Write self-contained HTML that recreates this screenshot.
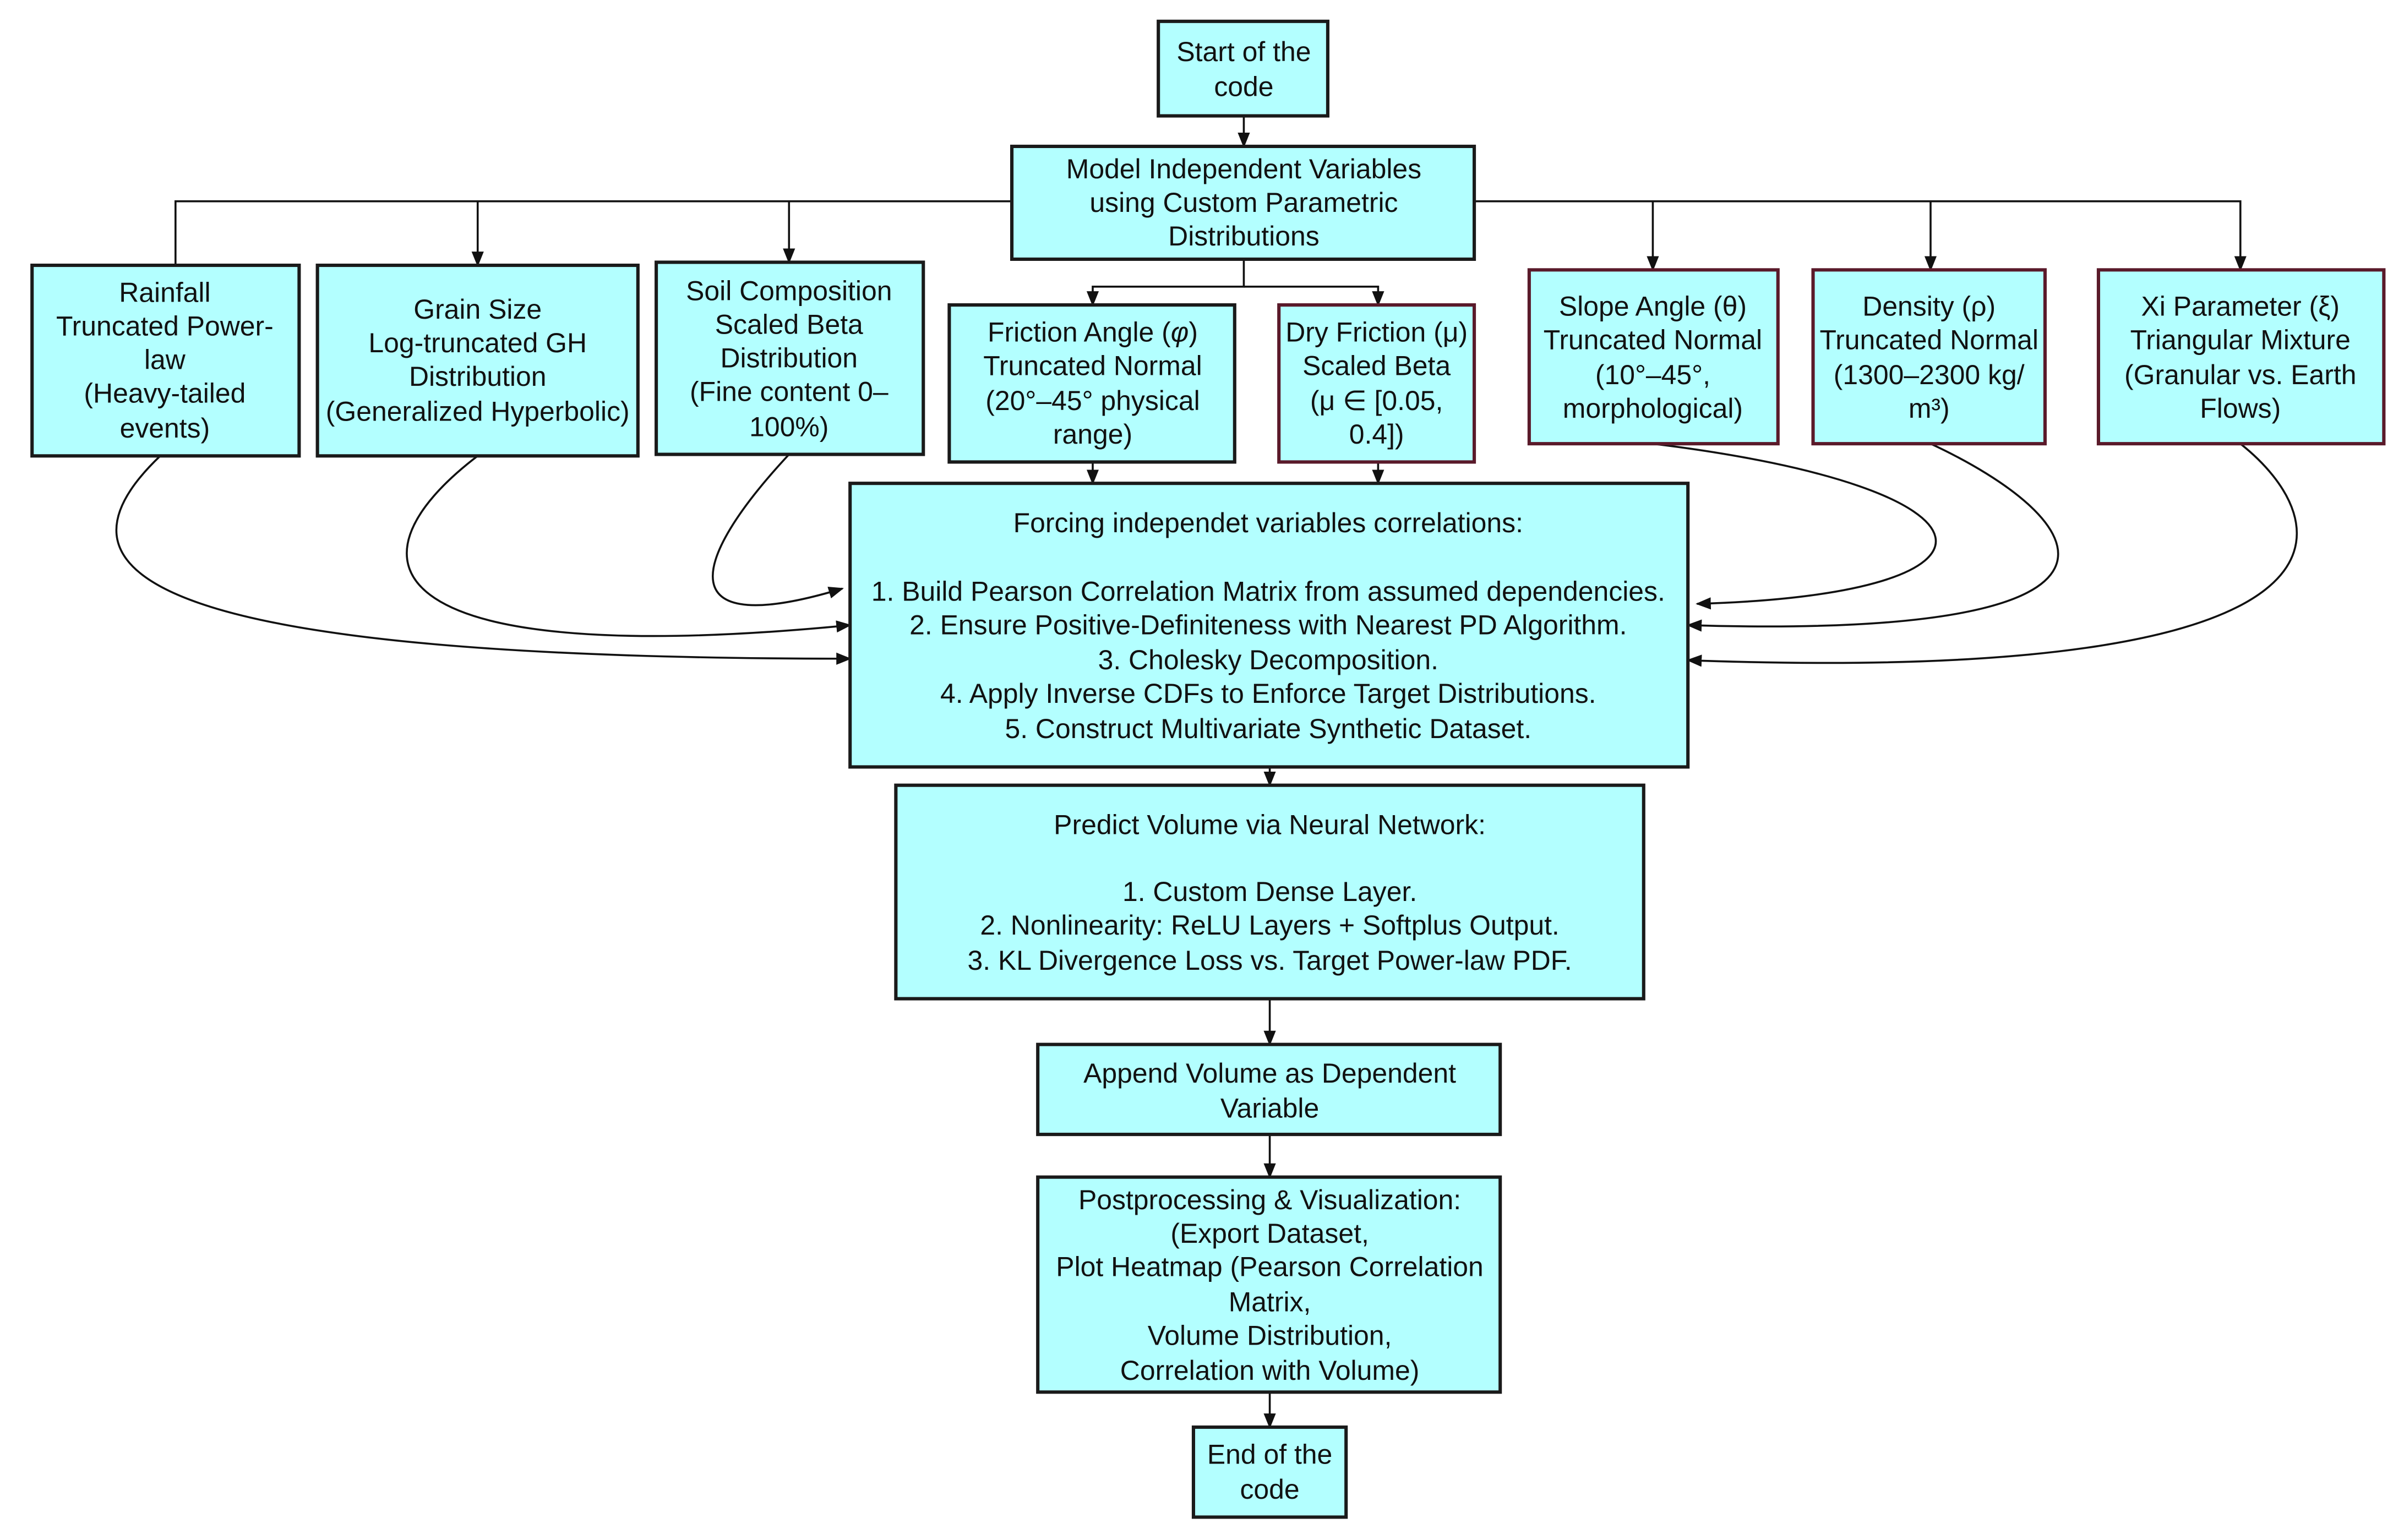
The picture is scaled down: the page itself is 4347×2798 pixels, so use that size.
<!DOCTYPE html>
<html><head><meta charset="utf-8"><style>
html,body{margin:0;padding:0;background:#fff;}
svg{display:block;}
text{font-family:"Liberation Sans",Arial,sans-serif;font-size:18px;fill:#111;text-anchor:middle;}
.b{fill:#b3ffff;stroke:#1a1a1a;stroke-width:2.2;}
.m{fill:#b3ffff;stroke:#5a1a2a;stroke-width:2.2;}
.l{fill:none;stroke:#111;stroke-width:1.3;}
</style></head><body>
<svg width="4347" height="2798" viewBox="0 0 1568 1010" preserveAspectRatio="none" xmlns="http://www.w3.org/2000/svg">
<defs><marker id="a" markerWidth="10" markerHeight="10" refX="9" refY="5" orient="auto" markerUnits="userSpaceOnUse"><path d="M0,1 L10,5 L0,9 Z" fill="#111"/></marker></defs>
<path class="l" d="M815,76 V96" marker-end="url(#a)"/>
<path class="l" d="M663,132 H115 V174"/>
<path class="l" d="M313,132 V174" marker-end="url(#a)"/>
<path class="l" d="M517,132 V172" marker-end="url(#a)"/>
<path class="l" d="M966,132 H1468 V177" marker-end="url(#a)"/>
<path class="l" d="M1083,132 V177" marker-end="url(#a)"/>
<path class="l" d="M1265,132 V177" marker-end="url(#a)"/>
<path class="l" d="M815,170 V188 H716 V200" marker-end="url(#a)"/>
<path class="l" d="M815,188 H903 V200" marker-end="url(#a)"/>
<path class="l" d="M716,303 V317" marker-end="url(#a)"/>
<path class="l" d="M903,303 V317" marker-end="url(#a)"/>
<path class="l" d="M832,503 V515" marker-end="url(#a)"/>
<path class="l" d="M832,655 V685" marker-end="url(#a)"/>
<path class="l" d="M832,744 V772" marker-end="url(#a)"/>
<path class="l" d="M832,913 V936" marker-end="url(#a)"/>
<path class="l" d="M105,299 C20,380 110,432 557,432" marker-end="url(#a)"/>
<path class="l" d="M313,299 C220,370 250,440 557,410" marker-end="url(#a)"/>
<path class="l" d="M517,298 C450,370 440,420 552,386" marker-end="url(#a)"/>
<path class="l" d="M1083,291 C1320,320 1330,390 1112,396" marker-end="url(#a)"/>
<path class="l" d="M1265,291 C1370,340 1430,420 1106,410" marker-end="url(#a)"/>
<path class="l" d="M1468,291 C1530,340 1570,450 1106,433" marker-end="url(#a)"/>
<rect class="b" x="759" y="14" width="111" height="62"/>
<text x="815" y="40">Start of the</text><text x="815" y="63">code</text>
<rect class="b" x="663" y="96" width="303" height="74"/>
<text x="815" y="117">Model Independent Variables</text><text x="815" y="139">using Custom Parametric</text><text x="815" y="161">Distributions</text>
<rect class="b" x="21" y="174" width="175" height="125"/>
<text x="108" y="198">Rainfall</text><text x="108" y="220">Truncated Power-</text><text x="108" y="242">law</text><text x="108" y="264">(Heavy-tailed</text><text x="108" y="287">events)</text>
<rect class="b" x="208" y="174" width="210" height="125"/>
<text x="313" y="209">Grain Size</text><text x="313" y="231">Log-truncated GH</text><text x="313" y="253">Distribution</text><text x="313" y="276">(Generalized Hyperbolic)</text>
<rect class="b" x="430" y="172" width="175" height="126"/>
<text x="517" y="197">Soil Composition</text><text x="517" y="219">Scaled Beta</text><text x="517" y="241">Distribution</text><text x="517" y="263">(Fine content 0–</text><text x="517" y="286">100%)</text>
<rect class="b" x="622" y="200" width="187" height="103"/>
<text x="716" y="224">Friction Angle (<tspan font-style="italic">φ</tspan>)</text><text x="716" y="246">Truncated Normal</text><text x="716" y="269">(20°–45° physical</text><text x="716" y="291">range)</text>
<rect class="m" x="838" y="200" width="128" height="103"/>
<text x="902" y="224">Dry Friction (μ)</text><text x="902" y="246">Scaled Beta</text><text x="902" y="269">(μ ∈ [0.05,</text><text x="902" y="291">0.4])</text>
<rect class="m" x="1002" y="177" width="163" height="114"/>
<text x="1083" y="207">Slope Angle (θ)</text><text x="1083" y="229">Truncated Normal</text><text x="1083" y="252">(10°–45°,</text><text x="1083" y="274">morphological)</text>
<rect class="m" x="1188" y="177" width="152" height="114"/>
<text x="1264" y="207">Density (ρ)</text><text x="1264" y="229">Truncated Normal</text><text x="1264" y="252">(1300–2300 kg/</text><text x="1264" y="274">m³)</text>
<rect class="m" x="1375" y="177" width="187" height="114"/>
<text x="1468" y="207">Xi Parameter (ξ)</text><text x="1468" y="229">Triangular Mixture</text><text x="1468" y="252">(Granular vs. Earth</text><text x="1468" y="274">Flows)</text>
<rect class="b" x="557" y="317" width="549" height="186"/>
<text x="831" y="349">Forcing independet variables correlations:</text>
<text x="831" y="394">1. Build Pearson Correlation Matrix from assumed dependencies.</text>
<text x="831" y="416">2. Ensure Positive-Definiteness with Nearest PD Algorithm.</text>
<text x="831" y="439">3. Cholesky Decomposition.</text>
<text x="831" y="461">4. Apply Inverse CDFs to Enforce Target Distributions.</text>
<text x="831" y="484">5. Construct Multivariate Synthetic Dataset.</text>
<rect class="b" x="587" y="515" width="490" height="140"/>
<text x="832" y="547">Predict Volume via Neural Network:</text>
<text x="832" y="591">1. Custom Dense Layer.</text>
<text x="832" y="613">2. Nonlinearity: ReLU Layers + Softplus Output.</text>
<text x="832" y="636">3. KL Divergence Loss vs. Target Power-law PDF.</text>
<rect class="b" x="680" y="685" width="303" height="59"/>
<text x="832" y="710">Append Volume as Dependent</text><text x="832" y="733">Variable</text>
<rect class="b" x="680" y="772" width="303" height="141"/>
<text x="832" y="793">Postprocessing &amp; Visualization:</text>
<text x="832" y="815">(Export Dataset,</text>
<text x="832" y="837">Plot Heatmap (Pearson Correlation</text>
<text x="832" y="860">Matrix,</text>
<text x="832" y="882">Volume Distribution,</text>
<text x="832" y="905">Correlation with Volume)</text>
<rect class="b" x="782" y="936" width="100" height="59"/>
<text x="832" y="960">End of the</text><text x="832" y="983">code</text>
</svg>
</body></html>
